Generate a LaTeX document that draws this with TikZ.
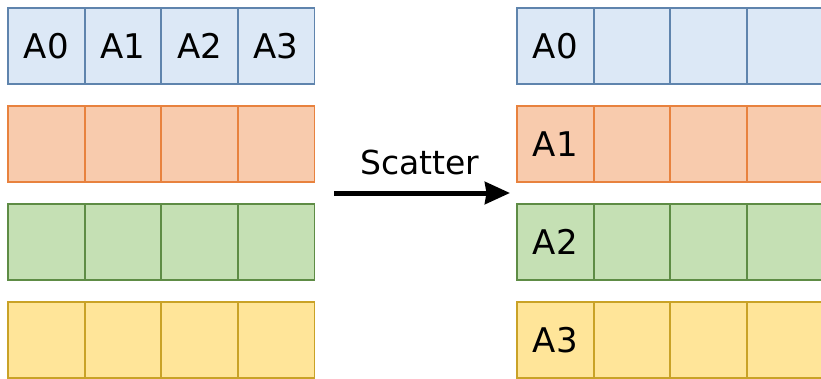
\documentclass[tikz,border=0pt]{standalone}
\usepackage{fontspec}
\setmainfont{DejaVu Sans}
\usetikzlibrary{arrows.meta}
\definecolor{bluefill}{HTML}{DCE8F6}\definecolor{bluedraw}{HTML}{5F84AD}
\definecolor{orangefill}{HTML}{F8CBAD}\definecolor{orangedraw}{HTML}{E8823E}
\definecolor{greenfill}{HTML}{C5E0B4}\definecolor{greendraw}{HTML}{5E8C45}
\definecolor{yellowfill}{HTML}{FFE599}\definecolor{yellowdraw}{HTML}{C9A227}
\tikzset{
  cell/.style={draw, line width=1.8pt, rectangle, minimum width=76.6pt, minimum height=76pt,
    inner sep=0pt, outer sep=0pt},
  celltext/.style={font=\fontsize{34}{39}\selectfont, inner sep=0pt},
  rowblue/.style={cell, fill=bluefill, draw=bluedraw},
  roworange/.style={cell, fill=orangefill, draw=orangedraw},
  rowgreen/.style={cell, fill=greenfill, draw=greendraw},
  rowyellow/.style={cell, fill=yellowfill, draw=yellowdraw},
  bigarrow/.style={line width=5pt, -{Stealth[length=25pt,width=22pt,inset=1.5pt]}},
}
\begin{document}
\begin{tikzpicture}[x=1pt,y=-1pt]
\useasboundingbox (0,0) rectangle (821,378);
\clip (0,0) rectangle (821,378);
% left block: before scatter
\foreach \r/\st in {0/rowblue,1/roworange,2/rowgreen,3/rowyellow}{
  \foreach \c in {0,1,2,3}{
    \node[\st] (L\r\c) at ({8+76.6*\c+38.3},{8+98*\r+38}) {};
  }
}
\node[celltext] (tL0) at (L00) {A0};
\node[celltext] (tL1) at (L01) {A1};
\node[celltext] (tL2) at (L02) {A2};
\node[celltext] (tL3) at (L03) {A3};
% right block: after scatter
\foreach \r/\st in {0/rowblue,1/roworange,2/rowgreen,3/rowyellow}{
  \foreach \c in {0,1,2,3}{
    \node[\st] (R\r\c) at ({517+76.6*\c+38.3},{8+98*\r+38}) {};
  }
}
\node[celltext] (tR0) at (R00) {A0};
\node[celltext] (tR1) at (R10) {A1};
\node[celltext] (tR2) at (R20) {A2};
\node[celltext] (tR3) at (R30) {A3};
% scatter arrow
\coordinate (arrS) at (334,193);
\coordinate (arrE) at (510,193);
\draw[bigarrow] (arrS) -- (arrE);
\node[font=\fontsize{33}{38}\selectfont, inner sep=0pt] (lbl) at (420,162) {Scatter};
\end{tikzpicture}
\end{document}
